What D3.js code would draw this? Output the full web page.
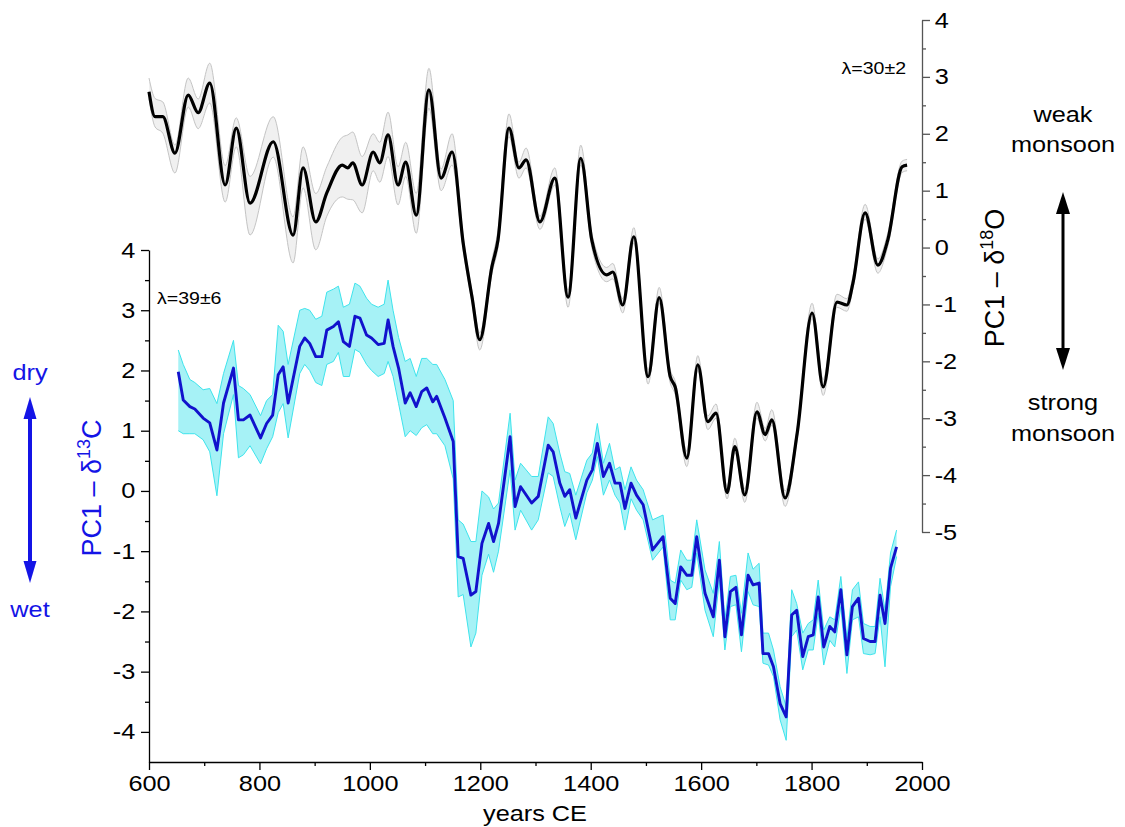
<!DOCTYPE html>
<html>
<head>
<meta charset="utf-8">
<script src="https://cdn.jsdelivr.net/npm/d3@7"></script>
<style>
  body { margin: 0; background: #fff; }
  svg { display: block; font-family: "Liberation Sans", Arial, sans-serif; }
</style>
</head>
<body>
<div id="chart"></div>
<script>
// PC1 - d18O (black, top, right axis)
const blackYears = [600,611,625,647,671,689,710,738,758,783,825,861,879,902,922,950,960,969,986,1006,1018,1033,1051,1065,1084,1107,1129,1149,1169,1185,1199,1221,1232,1252,1270,1283,1308,1335,1359,1382,1402,1429,1440,1458,1478,1504,1524,1544,1553,1574,1594,1612,1627,1647,1661,1679,1701,1716,1728,1752,1774,1801,1821,1846,1864,1875,1897,1920,1938,1964,1973];
const blackVals = [2.74,2.30,2.30,1.66,2.68,2.37,2.89,1.10,2.10,0.78,1.86,0.22,1.40,0.45,0.96,1.45,1.40,1.49,1.10,1.68,1.49,1.98,1.10,1.50,0.57,2.77,1.22,1.68,0.08,-0.87,-1.62,-0.34,0.13,2.10,1.40,1.54,0.45,1.22,-0.87,1.57,0.13,-0.48,-0.43,-1.01,0.19,-2.27,-0.88,-2.27,-2.45,-3.70,-2.06,-3.06,-2.91,-4.31,-3.50,-4.35,-2.89,-3.29,-3.03,-4.40,-3.26,-1.15,-2.45,-0.96,-1.01,-0.62,0.61,-0.31,0.13,1.42,1.45];
const blackHi = [2.98,2.62,2.56,1.80,2.98,2.61,3.24,1.44,2.28,1.25,2.30,0.54,1.77,0.95,1.42,1.94,1.98,2.03,1.60,2.00,1.85,2.38,1.42,1.85,0.95,3.15,1.38,2.00,0.20,-0.77,-1.50,-0.22,0.30,2.35,1.50,1.75,0.55,1.40,-0.75,1.80,0.25,-0.35,-0.28,-0.90,0.35,-2.15,-0.70,-2.15,-2.35,-3.58,-1.90,-2.96,-2.75,-4.20,-3.35,-4.24,-2.72,-3.18,-2.85,-4.28,-3.16,-0.98,-2.32,-0.82,-0.90,-0.50,0.76,-0.20,0.25,1.52,1.55];
const blackLo = [2.62,2.12,2.01,1.31,2.47,2.09,2.54,0.80,1.77,0.22,1.59,-0.27,1.05,-0.04,0.55,0.89,0.85,0.84,0.61,1.35,1.15,1.60,0.75,1.25,0.25,2.45,1.00,1.45,-0.05,-0.97,-1.80,-0.46,0.00,1.95,1.22,1.40,0.32,1.10,-1.05,1.45,0.00,-0.60,-0.55,-1.15,0.08,-2.40,-0.98,-2.38,-2.58,-3.85,-2.16,-3.20,-3.00,-4.42,-3.60,-4.48,-3.00,-3.40,-3.12,-4.55,-3.36,-1.25,-2.60,-1.05,-1.12,-0.72,0.50,-0.45,0.02,1.32,1.35];

// PC1 - d13C (blue, bottom, left axis)
const blueYears = [653,662,674,683,698,710,723,735,753,762,771,783,802,813,824,834,843,852,873,882,891,902,913,922,934,943,952,963,973,982,994,1003,1015,1026,1033,1042,1052,1064,1073,1084,1094,1103,1114,1121,1136,1151,1160,1169,1183,1192,1203,1215,1224,1233,1254,1263,1273,1293,1305,1323,1332,1344,1353,1362,1373,1393,1403,1412,1423,1434,1444,1453,1462,1473,1483,1495,1512,1531,1544,1553,1563,1574,1583,1592,1607,1622,1633,1643,1653,1663,1673,1685,1694,1705,1712,1722,1731,1743,1754,1764,1773,1784,1794,1803,1812,1822,1833,1842,1853,1864,1874,1885,1894,1906,1915,1924,1933,1943,1954];
const blueVals = [1.98,1.51,1.40,1.36,1.21,1.13,0.68,1.46,2.04,1.18,1.18,1.26,0.88,1.12,1.26,1.93,2.06,1.46,2.40,2.54,2.45,2.23,2.23,2.67,2.73,2.81,2.48,2.40,2.90,2.87,2.59,2.54,2.43,2.45,2.84,2.40,2.04,1.46,1.63,1.40,1.65,1.71,1.48,1.57,1.21,0.82,-1.09,-1.12,-1.73,-1.67,-0.87,-0.54,-0.84,-0.54,0.90,-0.26,0.07,-0.20,-0.09,0.76,0.65,0.13,-0.09,0.02,-0.45,0.18,0.35,0.79,0.24,0.46,0.13,0.13,-0.29,0.13,-0.07,-0.23,-0.98,-0.76,-1.78,-1.87,-1.26,-1.40,-1.40,-0.76,-1.70,-2.09,-1.15,-2.42,-1.67,-1.60,-2.39,-1.40,-1.56,-1.53,-2.70,-2.70,-2.92,-3.53,-3.75,-2.06,-1.98,-2.75,-2.42,-2.39,-1.76,-2.59,-2.25,-2.34,-1.64,-2.72,-1.92,-1.78,-2.45,-2.50,-2.50,-1.73,-2.20,-1.28,-0.93];
const blueHi = [2.34,2.10,1.85,1.80,1.68,1.70,1.45,1.95,2.50,1.75,1.70,1.60,1.25,1.50,1.60,2.75,2.65,2.10,3.00,3.03,3.00,2.85,2.90,3.30,3.35,3.40,3.05,3.10,3.45,3.40,3.20,3.10,3.05,3.10,3.50,3.00,2.55,2.15,2.20,1.90,2.20,2.20,2.10,2.10,1.85,1.50,-0.48,-0.55,-0.84,-0.84,0.00,-0.10,-0.30,-0.20,1.29,0.18,0.46,0.24,0.24,1.23,1.12,0.63,0.32,0.29,-0.07,0.51,0.63,1.12,0.46,0.79,0.35,0.40,0.02,0.40,0.18,0.02,-0.48,-0.40,-1.48,-1.53,-0.98,-1.15,-1.15,-0.48,-1.31,-1.70,-0.84,-2.14,-1.42,-1.40,-2.03,-1.03,-1.30,-1.20,-2.36,-2.36,-2.64,-3.25,-3.58,-1.64,-1.87,-2.36,-2.20,-2.14,-1.48,-2.31,-2.09,-2.14,-1.42,-2.45,-1.64,-1.51,-2.20,-2.25,-2.25,-1.45,-1.98,-1.03,-0.65];
const blueLo = [1.00,0.95,0.95,0.95,0.85,0.65,-0.08,0.95,1.60,0.55,0.60,0.75,0.45,0.70,0.90,1.30,1.45,0.88,1.95,2.10,2.00,1.80,1.75,2.10,2.15,2.30,1.90,1.90,2.35,2.30,2.10,2.00,1.90,1.95,2.15,1.90,1.45,0.90,1.00,0.92,1.05,1.10,0.95,0.95,0.75,0.20,-1.76,-1.72,-2.59,-2.36,-1.40,-1.05,-1.35,-1.00,0.35,-0.65,-0.32,-0.65,-0.48,0.30,0.24,-0.26,-0.59,-0.37,-0.81,-0.03,0.18,0.57,-0.07,0.18,-0.07,-0.20,-0.65,-0.13,-0.32,-0.48,-1.15,-0.93,-2.14,-2.14,-1.48,-1.64,-1.60,-1.03,-1.98,-2.42,-1.48,-2.64,-1.92,-1.89,-2.67,-1.67,-1.89,-1.92,-2.86,-2.89,-3.08,-3.80,-4.14,-2.42,-2.31,-2.97,-2.64,-2.64,-2.03,-2.89,-2.48,-2.59,-1.92,-3.03,-2.14,-2.09,-2.70,-2.72,-2.70,-2.09,-2.92,-1.59,-1.09];

const xTicks = [600, 800, 1000, 1200, 1400, 1600, 1800, 2000];
const leftTicks = [-4, -3, -2, -1, 0, 1, 2, 3, 4];
const rightTicks = [-5, -4, -3, -2, -1, 0, 1, 2, 3, 4];

const W = 1125, H = 827;
const svg = d3.select("#chart").append("svg")
  .attr("width", W)
  .attr("height", H);

const x = d3.scaleLinear().domain([600, 2000]).range([149, 922]);
const yL = d3.scaleLinear().domain([-4.5, 4]).range([762, 250]);
const yR = d3.scaleLinear().domain([-5, 4]).range([532, 20]);

const SX = 1.15; // reference text is a bit wide

// helper: horizontally stretched text
function label(g, px, py, str, size, anchor, color) {
  return g.append("text")
    .attr("transform", `translate(${px},${py}) scale(${SX},1)`)
    .attr("text-anchor", anchor || "middle")
    .attr("font-size", size)
    .attr("fill", color || "#000")
    .text(str);
}

// ---- black series (smooth) ----
const blackData = blackYears.map((yr, i) => ({ yr, v: blackVals[i], lo: blackLo[i], hi: blackHi[i] }));
const smooth = d3.curveMonotoneX;

svg.append("path")
  .datum(blackData)
  .attr("d", d3.area().x(d => x(d.yr)).y0(d => yR(d.lo)).y1(d => yR(d.hi)).curve(smooth))
  .attr("fill", "#f0f0f0");
["lo", "hi"].forEach(k => {
  svg.append("path")
    .datum(blackData)
    .attr("d", d3.line().x(d => x(d.yr)).y(d => yR(d[k])).curve(smooth))
    .attr("fill", "none")
    .attr("stroke", "#c4c4c4")
    .attr("stroke-width", 1);
});
svg.append("path")
  .datum(blackData)
  .attr("d", d3.line().x(d => x(d.yr)).y(d => yR(d.v)).curve(smooth))
  .attr("fill", "none")
  .attr("stroke", "#000")
  .attr("stroke-width", 3.2);

// ---- blue series (linear) ----
const blueData = blueYears.map((yr, i) => ({ yr, v: blueVals[i], lo: blueLo[i], hi: blueHi[i] }));

svg.append("path")
  .datum(blueData)
  .attr("d", d3.area().x(d => x(d.yr)).y0(d => yL(d.lo)).y1(d => yL(d.hi)))
  .attr("fill", "#a6f2f6");
["lo", "hi"].forEach(k => {
  svg.append("path")
    .datum(blueData)
    .attr("d", d3.line().x(d => x(d.yr)).y(d => yL(d[k])))
    .attr("fill", "none")
    .attr("stroke", "#3ee4ec")
    .attr("stroke-width", 1);
});
svg.append("path")
  .datum(blueData)
  .attr("d", d3.line().x(d => x(d.yr)).y(d => yL(d.v)))
  .attr("fill", "none")
  .attr("stroke", "#1212cc")
  .attr("stroke-width", 2.9)
  .attr("stroke-linejoin", "round");

// ---- axes ----
function styleAxis(g, color, textSize) {
  g.select(".domain").attr("stroke", color).attr("stroke-width", 1.3);
  g.selectAll(".tick line").attr("stroke", color).attr("stroke-width", 1.3);
  g.selectAll(".tick text")
    .attr("fill", "#000")
    .attr("font-size", textSize)
    .attr("font-family", "Liberation Sans, Arial, sans-serif");
}
const fmt = d => String(d);

// bottom
const gx = svg.append("g").attr("transform", "translate(0,762)")
  .call(d3.axisBottom(x).tickValues(xTicks).tickFormat(fmt).tickSize(8).tickSizeOuter(0).tickPadding(5));
styleAxis(gx, "#000", 22);
gx.selectAll(".tick text").attr("transform", `scale(${SX},1)`);
svg.append("g").attr("transform", "translate(0,762)")
  .call(d3.axisBottom(x).tickValues(d3.range(700, 2000, 200)).tickFormat("").tickSize(4).tickSizeOuter(0))
  .call(g => { g.select(".domain").remove(); g.selectAll("line").attr("stroke", "#000").attr("stroke-width", 1.3); });

// left
const gl = svg.append("g").attr("transform", "translate(149,0)")
  .call(d3.axisLeft(yL).tickValues(leftTicks).tickFormat(fmt).tickSize(8).tickSizeOuter(0).tickPadding(4));
styleAxis(gl, "#000", 22);
gl.selectAll(".tick text").attr("transform", `scale(${SX},1)`);
svg.append("g").attr("transform", "translate(149,0)")
  .call(d3.axisLeft(yL).tickValues(d3.range(-3.5, 4, 1)).tickFormat("").tickSize(4).tickSizeOuter(0))
  .call(g => { g.select(".domain").remove(); g.selectAll("line").attr("stroke", "#000").attr("stroke-width", 1.3); });

// right
const gr = svg.append("g").attr("transform", "translate(922,0)")
  .call(d3.axisRight(yR).tickValues(rightTicks).tickFormat(fmt).tickSize(8).tickSizeOuter(0).tickPadding(3));
styleAxis(gr, "#555", 22);
gr.selectAll(".tick text").attr("transform", `scale(${SX},1)`);
svg.append("g").attr("transform", "translate(922,0)")
  .call(d3.axisRight(yR).tickValues(d3.range(-4.5, 4, 1)).tickFormat("").tickSize(4).tickSizeOuter(0))
  .call(g => { g.select(".domain").remove(); g.selectAll("line").attr("stroke", "#555").attr("stroke-width", 1.3); });

// ---- titles and annotations ----
label(svg, 535, 821, "years CE", 22);
label(svg, 157, 304, "\u03bb=39\u00b16", 17, "start");
label(svg, 906, 74, "\u03bb=30\u00b12", 17, "end");

function rotTitle(px, py, sup, color) {
  const t = svg.append("text")
    .attr("transform", `translate(${px},${py}) rotate(-90)`)
    .attr("text-anchor", "middle")
    .attr("font-size", 27)
    .attr("fill", color);
  t.append("tspan").text("PC1 \u2013 \u03b4");
  t.append("tspan").attr("font-size", 18).attr("dy", -11).text(sup);
  t.append("tspan").attr("dy", 11).text(sup === "13" ? "C" : "O");
}
rotTitle(101, 488, "13", "#1414e6");
rotTitle(1004, 278, "18", "#000");

// double arrows
function dblArrow(cx, y1, y2, color, shaft, headW, headL) {
  svg.append("line")
    .attr("x1", cx).attr("x2", cx)
    .attr("y1", y1 + headL - 2).attr("y2", y2 - headL + 2)
    .attr("stroke", color).attr("stroke-width", shaft);
  svg.append("path")
    .attr("d", `M${cx},${y1} L${cx - headW / 2},${y1 + headL} L${cx + headW / 2},${y1 + headL} Z`)
    .attr("fill", color);
  svg.append("path")
    .attr("d", `M${cx},${y2} L${cx - headW / 2},${y2 - headL} L${cx + headW / 2},${y2 - headL} Z`)
    .attr("fill", color);
}
dblArrow(30, 397, 583, "#1414e6", 4, 13, 22);
dblArrow(1063, 192, 370, "#000", 3, 14, 22);

label(svg, 30, 380, "dry", 22, "middle", "#1414e6");
label(svg, 30, 617, "wet", 22, "middle", "#1414e6");
label(svg, 1063, 122, "weak", 22);
label(svg, 1063, 152, "monsoon", 22);
label(svg, 1063, 410, "strong", 22);
label(svg, 1063, 441, "monsoon", 22);
</script>
</body>
</html>
